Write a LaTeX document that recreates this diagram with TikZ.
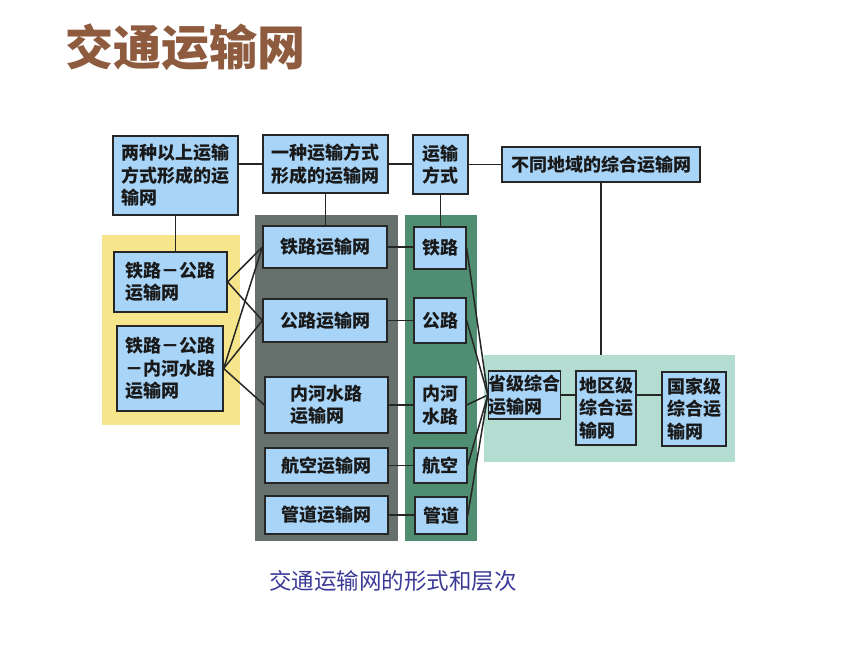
\documentclass[tikz,border=0pt]{standalone}
\usepackage{fontspec}
\newfontfamily\cjk{Noto Sans CJK SC}
\definecolor{boxblue}{HTML}{A8D4F7}
\definecolor{ybg}{HTML}{F7E58C}
\definecolor{gbg}{HTML}{66716D}
\definecolor{grbg}{HTML}{4F8E70}
\definecolor{tbg}{HTML}{B3DDD0}
\definecolor{titlebrown}{HTML}{8E5B3F}
\definecolor{capblue}{HTML}{3B3A96}
\tikzset{
  box/.style={draw=black!85, line width=1.3pt, fill=boxblue, inner sep=0pt,
    font=\cjk\bfseries\fontsize{18}{22.5}\selectfont, align=left, text=black!90},
  link/.style={draw=black!85, line width=1.5pt},
}
\begin{document}
\begin{tikzpicture}[x=1pt,y=-1pt]
\useasboundingbox[fill=white] (0,0) rectangle (860,645);
% title
\node[anchor=west, text=titlebrown, font=\cjk\bfseries\fontsize{48}{52}\selectfont] (title) at (62,47) {交通运输网};
% backgrounds
\fill[ybg] (102,235) rectangle (240,425);
\fill[gbg] (255,215) rectangle (398,541);
\fill[grbg] (405,215) rectangle (477,541);
\fill[tbg] (484,355) rectangle (735,462);
% top row
\node[box, minimum width=125pt, minimum height=79pt] (A) at (175.5,175.5) {两种以上运输\\方式形成的运\\输网};
\node[box, minimum width=125pt, minimum height=58pt] (B) at (325.5,164) {一种运输方式\\形成的运输网};
\node[box, minimum width=55pt, minimum height=59pt] (C) at (440.5,164.5) {运输\\方式};
\node[box, minimum width=198pt, minimum height=35pt] (D) at (601,164.5) {不同地域的综合运输网};
% left column
\node[box, minimum width=113pt, minimum height=60pt] (E) at (170.5,282) {铁路－公路\\运输网};
\node[box, minimum width=106pt, minimum height=85pt] (F) at (170,368.5) {铁路－公路\\－内河水路\\运输网};
% gray column
\node[box, minimum width=124pt, minimum height=42pt] (G) at (325,247) {铁路运输网};
\node[box, minimum width=124pt, minimum height=43pt] (H) at (325,320.5) {公路运输网};
\node[box, minimum width=123pt, minimum height=56pt] (I) at (326.5,405) {内河水路\\运输网};
\node[box, minimum width=123pt, minimum height=35pt] (J) at (326.5,465.5) {航空运输网};
\node[box, minimum width=123pt, minimum height=38pt] (K) at (326.5,515) {管道运输网};
% green column
\node[box, minimum width=52pt, minimum height=42pt] (L) at (440,248) {铁路};
\node[box, minimum width=52pt, minimum height=45pt] (M) at (440,320.5) {公路};
\node[box, minimum width=52pt, minimum height=56pt] (N) at (440,405) {内河\\水路};
\node[box, minimum width=53pt, minimum height=35pt] (O) at (440.5,465.5) {航空};
\node[box, minimum width=52pt, minimum height=37pt] (P) at (441,515.5) {管道};
% right
\node[box, minimum width=71pt, minimum height=48pt] (Q) at (524.5,395) {省级综合\\运输网};
\node[box, minimum width=60pt, minimum height=74pt] (R) at (606,408) {地区级\\综合运\\输网};
\node[box, minimum width=64pt, minimum height=74pt] (S) at (694,409) {国家级\\综合运\\输网};
\coordinate (Dend) at (601,355);
% connectors
\draw[link] (A.east |- B.west) -- (B.west);
\draw[link] (B.east) -- (B.east -| C.west);
\draw[link] (C.east) -- (C.east -| D.west);
\draw[link] (A.south) -- (A.south |- E.north);
\draw[link] (B.south) -- (B.south |- G.north);
\draw[link] (C.south) -- (C.south |- L.north);
\draw[link] (D.south) -- (Dend);
\draw[link] (E.east) -- (G.west);
\draw[link] (E.east) -- (H.west);
\draw[link] (F.east) -- (G.west);
\draw[link] (F.east) -- (H.west);
\draw[link] (F.east) -- (I.west);
\draw[link] (G.east) -- (G.east -| L.west);
\draw[link] (H.east) -- (H.east -| M.west);
\draw[link] (I.east) -- (I.east -| N.west);
\draw[link] (J.east) -- (J.east -| O.west);
\draw[link] (K.east) -- (K.east -| P.west);
\draw[link] (L.east) -- (Q.west);
\draw[link] (M.east) -- (Q.west);
\draw[link] (N.east) -- (Q.west);
\draw[link] (O.east) -- (Q.west);
\draw[link] (P.east) -- (Q.west);
\draw[link] (Q.east) -- (Q.east -| R.west);
\draw[link] (R.east |- Q.east) -- (S.west |- Q.east);
% caption
\node[text=capblue, font=\cjk\fontsize{22.5}{26}\selectfont] (cap) at (393,581) {交通运输网的形式和层次};
\end{tikzpicture}
\end{document}
